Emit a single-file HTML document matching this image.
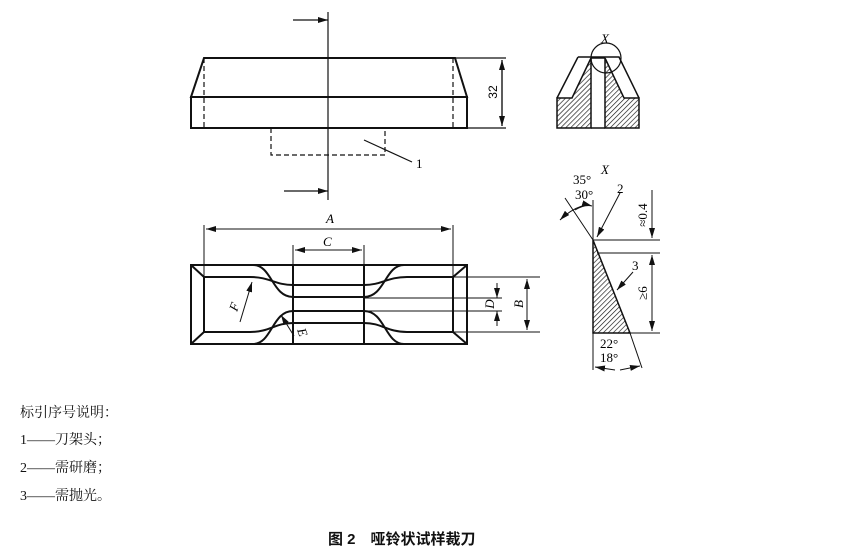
<!DOCTYPE html>
<html><head><meta charset="utf-8"><style>
body{margin:0;background:#fff;width:861px;height:554px;overflow:hidden}
svg{position:absolute;left:0;top:0}
.t{font-family:"Liberation Serif","Noto Serif CJK SC",serif;font-size:14px;position:absolute;color:#111}
</style></head><body>
<svg width="861" height="554" viewBox="0 0 861 554">
<defs>
<pattern id="h" width="3.5" height="3.5" patternUnits="userSpaceOnUse" patternTransform="rotate(45)"><line x1="0" y1="0" x2="0" y2="3.5" stroke="#111" stroke-width="1.3"/></pattern>
<marker id="a" markerWidth="10" markerHeight="6" refX="10" refY="3" orient="auto" markerUnits="userSpaceOnUse"><path d="M0,0L10,3L0,6z" fill="#111"/></marker>
</defs>
<g fill="none" stroke="#111" stroke-width="2">
<path d="M191,97L204,58H455L467,97Z"/>
<rect x="191" y="97" width="276" height="31"/>
</g>
<g fill="none" stroke="#111" stroke-width="1.2">
<path d="M204,58V128M453,58V128" stroke-dasharray="5,3"/>
<path d="M271,128V155H385V128" stroke-dasharray="5,3"/>
<path d="M328,12V200"/>
<path d="M293,20H328" marker-end="url(#a)"/>
<path d="M284,191H328" marker-end="url(#a)"/>
<path d="M364,140L412,162"/>
<path d="M455,58H506M467,128H506"/>
<path d="M502,60V126" marker-end="url(#a)"/><path d="M502,126V60" marker-end="url(#a)"/>
</g>
<text x="497" y="92" font-family="Liberation Sans" font-size="12" transform="rotate(-90 497 92)" text-anchor="middle">32</text>
<text x="416" y="168" font-family="Liberation Serif" font-size="13">1</text>
<g fill="none" stroke="#111" stroke-width="2">
<rect x="191" y="265" width="276" height="79"/>
<path d="M204,277H250C270,277 275,285 293,285H364C382,285 387,277 407,277H453V332H407C387,332 382,323 364,323H293C275,323 270,332 250,332H204Z"/>
<path d="M253,265C272,265 272,297 293,297H364C385,297 385,265 404,265"/>
<path d="M253,344C272,344 272,311 293,311H364C385,311 385,344 404,344"/>
<path d="M191,265L204,277M467,265L453,277M191,344L204,332M467,344L453,332"/>
<path d="M293,265V344M364,265V344"/>
</g>
<g fill="none" stroke="#111" stroke-width="1">
<path d="M204,225V277M453,225V277M293,245V265M364,245V265"/>
<path d="M206,229H451" marker-end="url(#a)"/><path d="M451,229H206" marker-end="url(#a)"/>
<path d="M295,250H362" marker-end="url(#a)"/><path d="M362,250H295" marker-end="url(#a)"/>
<path d="M453,277H540M453,332H540M364,298H502M364,311H502"/>
<path d="M527,279V330" marker-end="url(#a)"/><path d="M527,330V279" marker-end="url(#a)"/>
<path d="M497,283V298" marker-end="url(#a)"/><path d="M497,326V311" marker-end="url(#a)"/>
<path d="M240,322L252,282" marker-end="url(#a)"/>
<path d="M294,336L281,315" marker-end="url(#a)"/>
</g>
<g font-family="Liberation Serif" font-style="italic" font-size="13">
<text x="326" y="223">A</text><text x="323" y="246">C</text>
<text x="237" y="312" transform="rotate(-70 237 312)">F</text>
<text x="297" y="330" transform="rotate(70 297 330)">E</text>
<text x="494" y="304" transform="rotate(-90 494 304)" text-anchor="middle">D</text>
<text x="523" y="304" transform="rotate(-90 523 304)" text-anchor="middle">B</text>
<text x="601" y="43">X</text><text x="601" y="174">X</text>
</g>
<path d="M557,98L572,98L591,58V128H557Z" fill="url(#h)" stroke="#111" stroke-width="1.5"/>
<path d="M639,98L624,98L605,58V128H639Z" fill="url(#h)" stroke="#111" stroke-width="1.5"/>
<g fill="none" stroke="#111" stroke-width="1.5">
<path d="M578,57H619L639,98M578,57L557,98M591,128H605M591,58H605"/>
<circle cx="606" cy="58" r="15" stroke-width="1.2"/>
</g>
<path d="M593,240V333H630Z" fill="url(#h)" stroke="#111" stroke-width="1.5"/>
<g fill="none" stroke="#111" stroke-width="1">
<path d="M593,200V370M593,240H660M597,253H660M630,333H660M630,333L642,368M593,240L565,198"/>
<path d="M652,190V238" marker-end="url(#a)"/><path d="M652,331V255" marker-end="url(#a)"/><path d="M652,255V331" marker-end="url(#a)"/>
<path d="M575,210Q585,204 592,206" marker-end="url(#a)"/><path d="M582,206Q570,210 560,220" marker-end="url(#a)"/>
<path d="M620,193L597,237" marker-end="url(#a)"/>
<path d="M633,272L617,290" marker-end="url(#a)"/>
<path d="M615,370L595,367" marker-end="url(#a)"/><path d="M620,370L640,366" marker-end="url(#a)"/>
</g>
<g font-family="Liberation Serif" font-size="13">
<text x="573" y="184">35°</text><text x="575" y="199">30°</text>
<text x="617" y="193">2</text><text x="632" y="270">3</text>
<text x="600" y="348">22°</text><text x="600" y="362">18°</text>
<text x="647" y="215" transform="rotate(-90 647 215)" text-anchor="middle">≈0.4</text>
<text x="647" y="293" transform="rotate(-90 647 293)" text-anchor="middle">≥6</text>
</g>
</svg>
<div class="t" style="left:20px;top:402px">标引序号说明：</div>
<div class="t" style="left:20px;top:429px">1——刀架头；</div>
<div class="t" style="left:20px;top:457px">2——需研磨；</div>
<div class="t" style="left:20px;top:485px">3——需抛光。</div>
<div class="t" style="left:328px;top:528px;font-weight:bold;font-size:15px;font-family:'Liberation Sans','Noto Sans CJK SC',sans-serif">图 2　哑铃状试样裁刀</div>
</body></html>
